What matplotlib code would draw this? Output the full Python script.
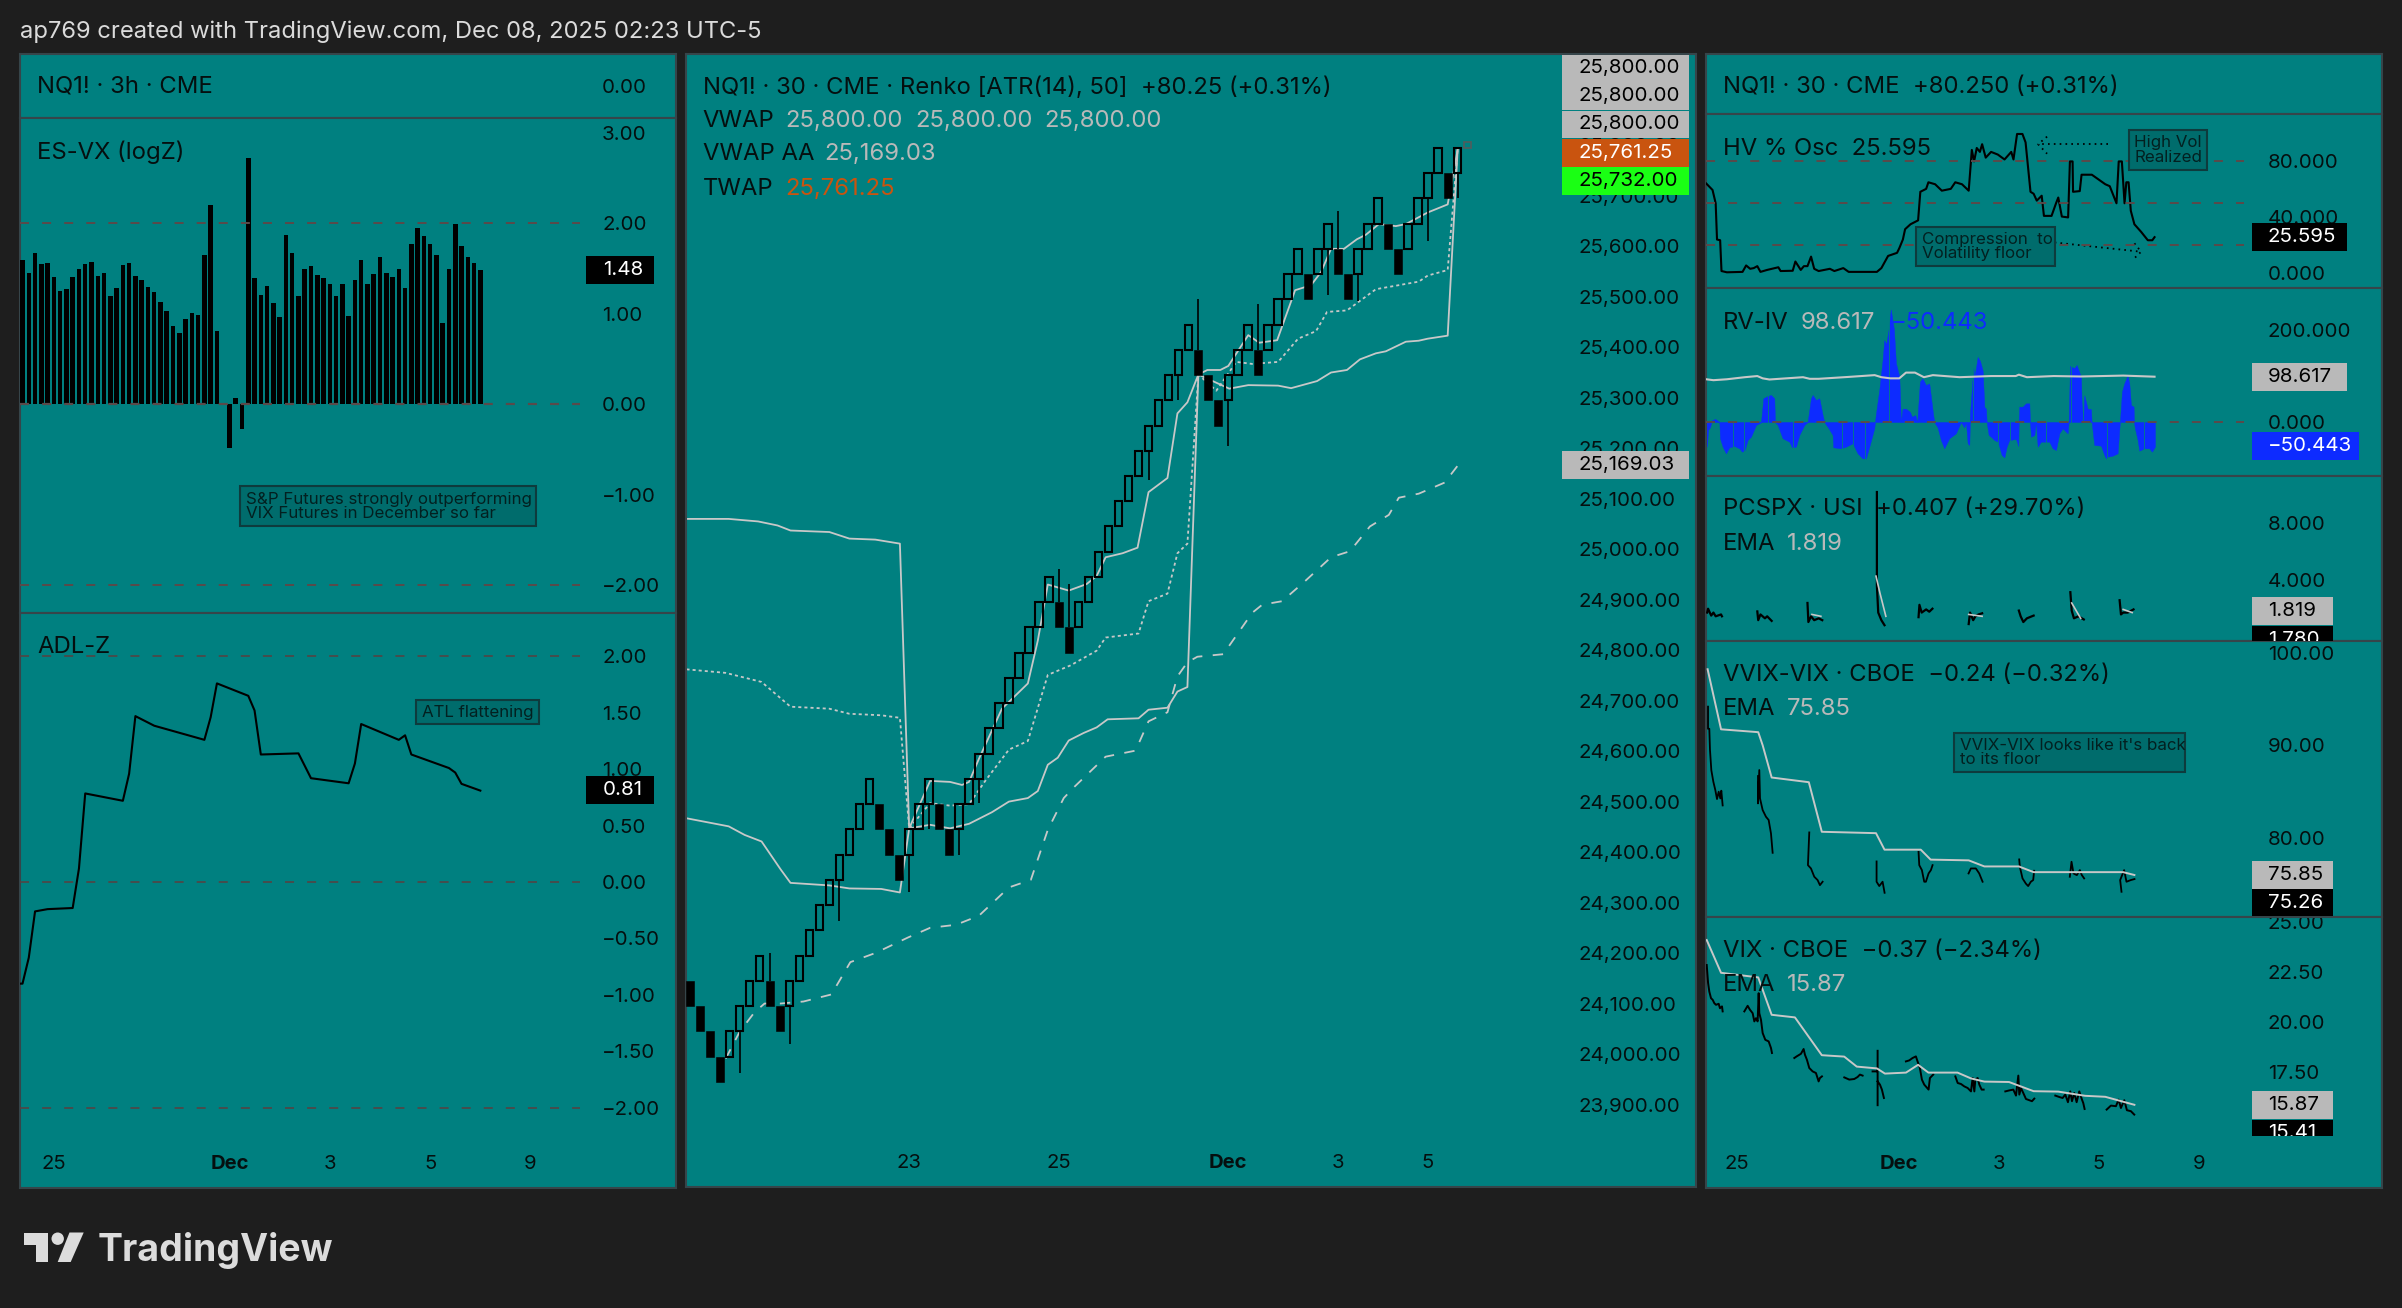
import numpy as np
import matplotlib
matplotlib.use("Agg")
import matplotlib.pyplot as plt
from matplotlib.patches import Rectangle, Circle, Polygon
from matplotlib.transforms import Bbox, TransformedBbox

plt.rcParams['font.family'] = ['Inter', 'DejaVu Sans']
plt.rcParams['lines.scale_dashes'] = False

nan = float('nan')

# --- left column, 3h bars ---
esvx_vals = [1.59, 1.45, 1.67, 1.55, 1.56, 1.40, 1.25, 1.27, 1.40, 1.49, 1.55, 1.57, 1.41, 1.45, 1.19, 1.28,
             1.54, 1.56, 1.42, 1.37, 1.29, 1.24, 1.13, 1.03, 0.86, 0.79, 0.94, 1.01, 0.99, 1.65, 2.20, 0.81,
             -0.01, -0.48, 0.07, -0.27, 2.72, 1.39, 1.21, 1.31, 1.12, 0.96, 1.87, 1.67, 1.19, 1.49, 1.53, 1.43,
             1.39, 1.33, 1.19, 1.33, 0.97, 1.37, 1.59, 1.33, 1.44, 1.63, 1.45, 1.40, 1.49, 1.28, 1.77, 1.95,
             1.86, 1.77, 1.65, 0.90, 1.49, 1.99, 1.75, 1.63, 1.56, 1.48]
adl_bar = [-0.3, 0, 1, 2, 4, 8, 9, 10, 16, 17, 18, 21, 29, 30, 31, 36, 37, 38, 44, 46, 52, 53, 54, 60, 61, 62, 68, 69, 70, 73]
adl_vals = [-0.90, -0.90, -0.67, -0.26, -0.24, -0.23, 0.12, 0.785, 0.72, 0.96, 1.47, 1.385, 1.26, 1.46, 1.76, 1.65,
            1.52, 1.13, 1.14, 0.92, 0.875, 1.05, 1.40, 1.26, 1.30, 1.13, 1.01, 0.97, 0.87, 0.81]
left_ticks = [5, 33, 49, 65, 81]
left_tick_labels = ['25', 'Dec', '3', '5', '9']

# --- centre, renko 50pt bricks ---
renko_close = [24095, 24045, 23995, 23945, 24045, 24095, 24145, 24195, 24095, 24045, 24145, 24195, 24245, 24295,
               24345, 24395, 24445, 24495, 24545, 24445, 24395, 24345, 24445, 24495, 24545, 24445, 24395, 24495,
               24545, 24595, 24645, 24695, 24745, 24795, 24845, 24895, 24945, 24845, 24795, 24895, 24945, 24995,
               25045, 25095, 25145, 25195, 25245, 25295, 25345, 25395, 25445, 25345, 25295, 25245, 25345, 25395,
               25445, 25345, 25445, 25495, 25545, 25595, 25495, 25595, 25645, 25545, 25495, 25595, 25645, 25695,
               25595, 25545, 25645, 25695, 25745, 25795, 25695, 25795]
wick_idx = [5, 8, 10, 15, 22, 24, 27, 29, 37, 38, 46, 49, 51, 54, 57, 64, 65, 67, 74, 77]
wick_price = [23962, 24201, 24019, 24263, 24320, 24445, 24394, 24497, 24961, 24931, 25138, 25295, 25496, 25204,
              25485, 25504, 25670, 25492, 25611, 25695]
upper_idx = [-0.33, 3.9, 6.85, 8.8, 10.1, 14, 16, 18.6, 21.07, 22, 24.1, 26.1, 27.3, 28, 29, 31.3, 33.9, 34.9, 35.9,
             38, 39.8, 40.8, 41.7, 43.4, 44.9, 46, 47.9, 48.9, 49.9, 51, 51.9, 53.2, 54, 56, 57.1, 58.9, 60.7, 62.3,
             63.3, 64.3, 65.6, 66.9, 67.8, 69.1, 70.8, 71.8, 74, 76, 77]
upper_vals = [25060, 25060, 25055, 25047, 25037, 25034, 25021, 25019, 25011, 24447, 24541, 24539, 24533, 24539, 24585,
              24684, 24734, 24819, 24930, 24918, 24931, 24947, 24984, 24992, 25003, 25113, 25141, 25269, 25291, 25346,
              25355, 25355, 25363, 25424, 25409, 25414, 25513, 25523, 25549, 25595, 25595, 25614, 25623, 25644, 25640,
              25644, 25667, 25683, 25792]
mid_idx = [-0.33, 3.6, 7.2, 10.1, 14, 16, 19.2, 21.07, 22, 24.1, 26.1, 28, 29.7, 32, 33.9, 35.9, 38.2, 40.8, 41.7, 45,
           46, 47.9, 48.9, 49.9, 51, 52.8, 54.8, 56.4, 59, 61, 62.8, 63.9, 65.9, 68.8, 73.1, 74, 76, 77]
mid_vals = [24762, 24755, 24737, 24688, 24684, 24674, 24671, 24666, 24447, 24497, 24492, 24495, 24543, 24603, 24620,
            24751, 24770, 24799, 24825, 24833, 24897, 24912, 24992, 25011, 25346, 25314, 25371, 25367, 25371, 25417,
            25432, 25470, 25473, 25515, 25530, 25542, 25553, 25792]
lower_idx = [-0.33, 3.9, 5.5, 7.2, 9.1, 10.1, 14, 16, 19.2, 21.07, 22, 24.1, 26.1, 28, 30.3, 32, 33.9, 34.9, 35.9, 36.9,
             38, 39.5, 40.8, 41.9, 45, 46, 47.9, 48.9, 49.9, 51, 54.1, 56, 59, 60.3, 62.9, 64.3, 65.9, 67.2, 68.8,
             69.8, 71.8, 73.1, 74, 76, 77]
lower_vals = [24467, 24451, 24434, 24421, 24366, 24339, 24334, 24328, 24327, 24320, 24447, 24454, 24447, 24456, 24479,
              24500, 24507, 24521, 24573, 24587, 24621, 24636, 24647, 24663, 24665, 24682, 24686, 24718, 24727, 25346,
              25318, 25325, 25324, 25319, 25333, 25350, 25355, 25376, 25388, 25392, 25411, 25413, 25417, 25423, 25792]
vwap_aa_idx = [3.6, 5, 6.5, 7.5, 9.1, 11.4, 14.2, 16.1, 18.6, 21.9, 24.1, 26.7, 29, 32, 34.2, 35.9, 37.5, 38.5, 41.7,
               44.7, 46, 47.9, 48.9, 49.9, 50.9, 53.5, 56.4, 57.4, 59.4, 61.6, 64.3, 66.2, 68.2, 70.1, 71.1, 73.1, 75.7, 77.1]
vwap_aa_vals = [23991, 24044, 24083, 24100, 24100, 24104, 24118, 24182, 24200, 24231, 24250, 24256, 24274, 24330, 24345,
                24444, 24507, 24528, 24589, 24601, 24659, 24677, 24748, 24776, 24787, 24792, 24874, 24890, 24897, 24935,
                24984, 24996, 25045, 25068, 25102, 25110, 25132, 25168]
centre_ticks = [22, 37, 54, 65, 74]
centre_tick_labels = ['23', '25', 'Dec', '3', '5']
price_levels = [23900, 24000, 24100, 24200, 24300, 24400, 24500, 24600, 24700, 24800, 24900, 25000, 25100, 25200,
                25300, 25400, 25500, 25600, 25700, 25800]

# --- right column, time is in an ordinal bar clock shared by all panes ---
right_ticks = [82, 443, 667, 890, 1115]
right_tick_labels = ['25', 'Dec', '3', '5', '9']
hv_t = [14, 28, 35, 38, 45, 48, 60, 95, 103, 112, 120, 128, 135, 150, 175, 180, 207, 213, 225, 232, 240, 248, 255, 265,
        290, 300, 320, 332, 395, 405, 420, 440, 445, 453, 458, 470, 487, 492, 505, 510, 525, 540, 560, 570, 585, 600,
        607, 612, 618, 625, 630, 638, 650, 665, 680, 695, 700, 708, 720, 727, 738, 745, 752, 763, 768, 785, 795, 800,
        808, 822, 826, 832, 833, 848, 852, 875, 905, 915, 930, 935, 942, 948, 952, 957, 962, 970, 985, 1000, 1010, 1015]
hv_vals = [63.9, 59.3, 49.8, 23.9, 23.4, 1.4, 0.5, 0.8, 5.4, 3, 3.5, 4.9, 0.8, 2.2, 4.1, 1.4, 1.6, 8.2, 2.2, 4.9, 4.9,
           11.7, 3.0, 1.4, 3, 1.4, 3.5, 0.8, 0.8, 3.5, 12.2, 14.4, 17.7, 23.9, 31.3, 34.8, 37.6, 58, 60.1, 64.8, 63.4,
           58.8, 60.1, 64.8, 63.4, 58.8, 87.9, 79.7, 89.3, 86.5, 92, 82.4, 86.5, 84.6, 81.1, 86.5, 81.1, 99.3, 99.3,
           93.3, 58, 56.6, 51.7, 55.2, 40.8, 40.8, 49.8, 53.9, 40.3, 39.7, 79.7, 79.7, 58, 58.5, 70.2, 70.2, 63.4, 62,
           49.8, 79.7, 79.7, 49.8, 64.8, 64.8, 44.4, 34.8, 29.4, 23.4, 23.4, 25.6]
rv_t = [14, 30, 60, 100, 128, 140, 155, 230, 245, 265, 330, 390, 405, 425, 445, 460, 480, 500, 520, 580, 650, 705, 712,
        730, 790, 850, 945, 1015]
rv_vals = [93, 91, 93, 97.5, 100, 95, 92.5, 97.5, 94, 94, 98, 102, 97.5, 95, 95, 107.5, 107.5, 97.5, 102, 97.5, 100,
           100, 103, 97.5, 100, 99, 101, 98.6]
iv_t = [13.4, 15.6, 17.9, 22.3, 26.8, 34.2, 43.2, 44.6, 50.6, 58, 65.5, 76.6, 87.8, 93.8, 99.7, 106.4, 113.8, 125, 136.2,
        141.4, 151, 158.5, 165.9, 167.4, 173.4, 184.5, 199.4, 205.4, 214.3, 221.7, 232.9, 240.3, 247.8, 251.5, 258.9,
        266.4, 273.8, 277.5, 287.2, 296.1, 297.6, 314.7, 325.9, 340.8, 351.9, 363.1, 370.5, 378, 389.1, 392.8, 400.3,
        407.7, 411.4, 416, 421, 426, 433, 437.5, 445, 448.6, 452.4, 459.8, 468.7, 473.2, 480.6, 485.1, 491, 497, 504.4,
        511.9, 519.3, 523, 530.5, 537.9, 545.4, 556.5, 571.4, 582.6, 590, 593.7, 597.7, 601.4, 602.9, 610.4, 612.6,
        616.3, 620, 625.2, 631.2, 634.9, 638.6, 640.1, 644.6, 649.8, 657.2, 664.7, 668.4, 673.6, 679.6, 684.8, 690.7,
        705.6, 710.8, 711.6, 713, 720.5, 727.9, 735.4, 736.8, 739.1, 746.5, 750.2, 754, 761.4, 772.6, 780, 787.4, 794.9,
        802.3, 809.8, 820.9, 823.2, 826.1, 835.8, 841, 850.7, 852.2, 855.9, 858.1, 865.6, 873, 874.5, 876.7, 880.4,
        895.3, 902.8, 906.5, 910.2, 921.4, 932.5, 936.2, 938.5, 942.2, 947.4, 954.8, 958.6, 962.3, 968.2, 969, 971.2,
        977.2, 980.9, 992, 1003.2, 1009.2, 1015.9]
iv_vals = [0, -53.7, -17.4, -11.6, 4.4, 6.5, 0, -35.5, -53.7, -68.2, -55.1, -52.2, -57.3, -64.6, -61, -39.2, -31.9, -6.5,
           -0.7, 51.5, 56.6, 58.8, 51.5, 0, -6.5, -35.5, -42.8, -55.1, -53.7, -28.3, -6.5, 0, 51.5, 58.8, 47.9, 51.5,
           15.2, 0, -13.8, -28.3, -55.1, -57.3, -53.7, -46.4, -68.2, -79.1, -79.1, -53.7, -13.8, 17.4, 69.6, 134.9, 178,
           170, 200, 245, 202, 128, 99, 0, 29, 29, 22, 11.6, 15, 0, 87.8, 95, 80.5, 84, 26, 0, -11.6, -39.2, -57.3,
           -35.5, -24.7, 0, -11.6, 0, -46.4, -50, 17.4, 118.4, 98, 118.4, 141.6, 133, 112, 33, 29, 0, -28.3, -32, -39.2,
           -42.8, -53.7, -71.8, -77, -53.7, -39.2, -37, -52.2, 0, 33.4, 33.4, 40.6, 40.6, 0, -32, -28.3, 0, -53.7, -42.8,
           -42.8, -42.8, -57.3, -61, -24.7, -13.8, -24.7, 0, 122, 117, 124, 98, 40.6, 0, 58, 29, 28, 0, -18.9, -50, -51.5,
           -71.8, -79, -75.4, -73.3, -68.2, -18, 11.6, 66, 84, 101, 84, 37, 33.4, 0, -13.8, -39, -62.4, -57.3, -57.3,
           -64.6, -53.7]
iv_breaks = [73, 99, 152, 208, 316, 342, 369, 423, 610, 666, 693, 772.6, 829, 856, 909, 990.6]
pcspx_t = [16, 18, 25, 30, 35, 47, 49, nan, 128, 130, 135, 145, 150, 160, nan, 240, 242, 248, 255, 265, 273, nan,
           395, 395, 398, 405, 412, nan, 488, 490, 495, 505, 512, 519, nan, 600, 603, 610, 615, 622, 630, nan,
           712, 716, 722, 730, 745, nan, 827, 830, 835, 845, 857, nan, 937, 940, 945, 955, 968]
pcspx_vals = [1.73, 2.0, 1.52, 1.73, 1.47, 1.6, 1.47, nan, 1.81, 1.2, 1.6, 1.33, 1.47, 1.15, nan, 2.4, 1.07, 1.47, 1.2,
              1.33, 1.2, nan, 10.13, 3.6, 1.73, 1.2, 0.85, nan, 1.41, 2.27, 1.73, 1.95, 1.79, 2.0, nan, 0.93, 1.73, 1.2,
              1.47, 1.6, 1.68, nan, 1.87, 1.47, 1.07, 1.33, 1.52, nan, 3.15, 1.87, 1.33, 1.47, 1.25, nan, 2.59, 1.6,
              1.73, 1.73, 1.95]
pcspx_ema_t = [393, 402, 415, nan, 830, 850, nan, 250, 270, nan, 945, 965, nan, 600, 630]
pcspx_ema = [4.27, 3.07, 1.47, nan, 2.4, 1.33, nan, 1.6, 1.47, nan, 1.95, 1.73, nan, 1.6, 1.47]
vvix_t = [17.9, 17.9, 20.8, 22.3, 25.3, 29.8, 34.2, 38, 41.7, 45.4, 47.6, 50.6, nan,
          129.5, 129.5, 132.4, 134, 139.9, 147.3, 153.3, 158.5, 162.2, nan,
          244, 241, 247.8, 255.2, 262.6, 267.8, 273.8, nan,
          394.3, 394.3, 400.3, 407.7, 412.2, nan,
          488, 489.6, 495.5, 500.7, 504.4, 510.4, 515.6, 519.3, nan,
          599.7, 604.9, 616, 623.5, 631, nan,
          712.8, 714.2, 720.2, 727.6, 732.8, 738.8, 744, 746.2, nan,
          825.8, 829.6, 834, 841.5, 848.2, 852.6, 857.8, nan,
          941.2, 938.2, 947.1, 952.3, 961.9, 970.2]
vvix_vals = [94.2, 91.8, 91.8, 89.5, 87.3, 86.05, 85.15, 84.17, 84.97, 84.24, 85.08, 83.48, nan,
             86.67, 83.7, 87.32, 84.24, 82.98, 82.25, 81.9, 80.44, 78.34, nan,
             80.55, 77, 76.64, 75.74, 75.38, 74.83, 75.2, nan,
             77.4, 75.2, 74.73, 75.2, 74, nan,
             78.45, 77, 76.46, 75.2, 75.2, 76.1, 76.46, 77, nan,
             76.1, 76.64, 76.64, 76.1, 75.2, nan,
             77.62, 76.82, 75.56, 75, 74.73, 75.2, 75.38, 76.39, nan,
             75.74, 77.37, 76.1, 75.92, 76.46, 75.92, 75.56, nan,
             74.11, 75.38, 76.46, 75.2, 75.38, 75.49]
vvix_ema_t = [17, 47, 130, 140, 160, 243, 272, 393, 412, 493, 515, 600, 635, 712, 745, 825, 945, 970]
vvix_ema = [98.26, 91.74, 91.43, 90, 86.51, 86.0, 80.62, 80.47, 78.68, 78.68, 77.6, 77.52, 76.86, 76.86, 76.24, 76.24,
            76.24, 75.93]
vix_t = [15, 18, 20.8, 24.6, 28.3, 32, 35.7, 41.7, 44.6, 49.1, 50.6, nan,
         99, 106.4, 111.6, 117.6, 121.3, 125, 128.7, 131, 132.4, 136.2, 139.9, 145.8, 153.3, 158.5, 160.7, nan,
         210.6, 215.8, 225.4, 231.4, 234.4, 238.8, 244, 251.5, 258.9, 264.9, 267.8, 272.3, nan,
         322.2, 333.3, 344.5, 351.9, 357.1, 363.1, nan,
         385.4, 395, nan, 396.6, 396.6, nan, 396.6, 401.8, 406.2, 410.7, nan,
         459.8, 467.2, 474.7, 482.1, 485.8, 491, 495.5, 500.7, 510.4, 513.4, 520.8, nan,
         570.2, 575.4, 582.8, 590.2, 597.7, 605.1, 608.8, 612.6, 614.8, 620, 623.7, 628.9, 633.4, nan,
         681.8, 690.7, 699.6, 705.6, 710.8, 713, 716.7, 721.9, 727.9, 735.3, 741.3, 746.5, nan,
         793.4, 802.3, 809.7, 815.7, 821.6, 826.8, 830.6, 835.8, 841, 846.9, 852.9, 855.8, 858.8, nan,
         908, 917.6, 928.8, 934.7, 939.9, 947.4, 953.3, 962.2, 969.7]
vix_vals = [22.85, 21.96, 21.52, 21.19, 21.11, 20.94, 20.86, 20.91, 20.69, 20.78, 20.53, nan,
            20.53, 20.81, 20.61, 20.44, 20.03, 20.19, 20.03, 21.44, 20.44, 20.11, 19.45, 19.11, 19.03, 18.7, 18.45, nan,
            18.2, 18.28, 18.41, 18.65, 18.36, 18.11, 17.7, 17.53, 17.45, 17.03, 17.2, 17.28, nan,
            17.23, 17.12, 17.15, 17.25, 17.37, 17.32, nan,
            17.53, 17.53, nan, 18.56, 15.84, nan, 17.03, 16.87, 16.62, 16.2, nan,
            18.03, 18.08, 18.2, 18.28, 18.03, 17.7, 17.12, 16.87, 16.62, 17.2, 17.37, nan,
            17.28, 16.95, 16.9, 16.78, 16.7, 16.53, 17.2, 16.53, 17.12, 17.2, 16.87, 16.62, 16.62, nan,
            16.53, 16.58, 16.62, 16.32, 17.32, 16.37, 16.7, 16.45, 16.15, 16.09, 16.04, 16.17, nan,
            16.32, 16.25, 16.2, 16.37, 15.99, 16.53, 16.04, 16.45, 15.99, 16.53, 16.12, 15.95, 15.65, nan,
            15.62, 15.82, 15.79, 16.12, 15.7, 16.09, 15.59, 15.54, 15.37]
vix_ema_t = [15, 47, 130, 160, 212, 272, 322, 350, 395, 413, 460, 487, 510, 575, 605, 635, 690, 745, 800, 860, 905, 970]
vix_ema = [24.1, 22.46, 22.23, 20.36, 20.23, 18.34, 18.27, 17.77, 17.68, 17.42, 17.47, 17.86, 17.47, 17.47, 17.18, 17.02,
           17.0, 16.54, 16.52, 16.31, 16.26, 15.86]

W, H = 2402, 1308
TEAL = '#008080'
BG = '#1e1e1e'
LINE = '#c8c8c8'
GREY_TAG = '#b9b9b9'
DASH = '#5a4a4a'
BLUE = '#0d2bff'
ORANGE = '#c9540f'
FS = 14.8

fig = plt.figure(figsize=(W / 100, H / 100), dpi=100, facecolor=BG)


def pane(x0, y0, x1, y1, val_a=None, y_a=None, val_b=None, y_b=None, xlim=(0, 1)):
    ax = fig.add_axes([x0 / W, 1 - y1 / H, (x1 - x0) / W, (y1 - y0) / H], facecolor=TEAL)
    ax.set_xlim(*xlim)
    if val_a is not None:
        # two tick readings give the linear price scale of the pane
        per_px = (val_a - val_b) / (y_b - y_a)
        ax.set_ylim(val_a - (y1 - y_a) * per_px, val_a + (y_a - y0) * per_px)
    ax.set_xticks([])
    ax.set_yticks([])
    for s in ax.spines.values():
        s.set_color('#36454a')
        s.set_linewidth(1.5)
    return ax


def yticks(ax, ticks, labels, pad_px):
    ax.set_yticks(ticks)
    ax.set_yticklabels(labels)
    ax.tick_params(axis='y', left=False, labelleft=False, right=False, labelright=True, length=0,
                   pad=-pad_px * 0.72, labelsize=FS, labelcolor='#050f0f')
    for lab in ax.get_yticklabels():
        lab.set_clip_on(True)
        lab.set_clip_box(ax.bbox)


def xticks(ax, ticks, labels):
    ax.set_xticks(ticks)
    ax.set_xticklabels(labels)
    ax.tick_params(axis='x', bottom=False, length=0, pad=-33 * 0.72, labelsize=FS - 0.2, labelcolor='#050f0f')
    for lab in ax.get_xticklabels():
        if lab.get_text() == 'Dec':
            lab.set_fontweight('bold')


def dashed(ax, val, x_a, x_b, lw=1.4, color=DASH):
    ax.plot([x_a, x_b], [val, val], color=color, lw=lw, ls=(0, (6.5, 9.4)), zorder=4)


# left column
L0, L1 = 20, 676
left_x = (-0.4, 104.2)
lh = pane(L0, 54, L1, 118, -1, 118, 1, 54, left_x)
yticks(lh, [0], ['0.00'], L1 - 602)
es = pane(L0, 118, L1, 613, 3, 132.5, -2, 585.3, left_x)
es.bar(np.arange(len(esvx_vals)), esvx_vals, width=0.72, color='black', zorder=3)
for v in [2, 0, -2]:
    dashed(es, v, left_x[0], 88.9, lw=1.4 if v else 1.6)
yticks(es, [3, 2, 1, 0, -1, -2], ['3.00', '2.00', '1.00', '0.00', '−1.00', '−2.00'], L1 - 602)
adl = pane(L0, 613, L1, 1188, 2, 656.3, -2, 1107.8, left_x)
adl.plot(adl_bar, adl_vals, color='black', lw=1.5, zorder=3)
for v in [2, 0, -2]:
    dashed(adl, v, left_x[0], 88.9, lw=1.1, color='#5a3f3f')
yticks(adl, [2, 1.5, 1, 0.5, 0, -0.5, -1, -1.5, -2],
       ['2.00', '1.50', '1.00', '0.50', '0.00', '−0.50', '−1.00', '−1.50', '−2.00'], L1 - 602)
xticks(adl, left_ticks, left_tick_labels)

# centre column
C0, C1 = 685.5, 1696
centre_x = (-0.43, 100.9)
ctr = pane(C0, 54, C1, 1187, 25600, 246.3, 23900, 1104.5, centre_x)
ctr.plot(upper_idx, upper_vals, color=LINE, lw=1.3, zorder=2)
ctr.plot(mid_idx, mid_vals, color=LINE, lw=1.3, ls=(0, (2.2, 2.2)), zorder=2)
ctr.plot(lower_idx, lower_vals, color=LINE, lw=1.3, zorder=2)
ctr.plot(vwap_aa_idx, vwap_aa_vals, color=LINE, lw=1.3, ls=(0, (7.5, 7.5)), zorder=2)
closes = np.array(renko_close)
prev = np.r_[closes[0] + 50, closes[:-1]]
is_up = closes > prev
bottoms = np.where(is_up, closes - 50, closes)
idx = np.arange(len(closes))
# wicks start at the edge of the body they stick out of
wick_start = [bottoms[i] + 50 if p > bottoms[i] else bottoms[i] for i, p in zip(wick_idx, wick_price)]
ctr.vlines(wick_idx, wick_start, wick_price, color='black', lw=1.2, zorder=3)
ctr.bar(idx[is_up], 50, bottom=bottoms[is_up], width=0.76, facecolor='none', edgecolor='black', lw=1.5, zorder=4)
ctr.bar(idx[~is_up], 50, bottom=bottoms[~is_up], width=0.8, facecolor='black', edgecolor='black', lw=0.4, zorder=4)
ctr.bar([78], 12, bottom=25795, width=0.76, facecolor='none', edgecolor='#4c5f5f', lw=1.3, zorder=4)
yticks(ctr, price_levels, [f'{p:,.2f}' for p in price_levels], C1 - 1578)
xticks(ctr, centre_ticks, centre_tick_labels)

# right column
R0, R1 = 1706, 2381.6
right_x = (13.4, 1522)
rh = pane(R0, 54, R1, 114, xlim=right_x)
hv = pane(R0, 114, R1, 288, 80, 161, 0, 273, right_x)
hv.plot(hv_t, hv_vals, color='black', lw=1.5, zorder=3)
for v in [80, 50, 20]:
    dashed(hv, v, right_x[0], 1215)
# dotted pointers on the notes
hv.plot([910, 755], [92, 92], color='black', lw=1.3, ls=(0, (1.2, 3)), zorder=3)
hv.plot([775, 755, 775], [97.4, 92, 85.2], color='black', lw=1.3, ls=(0, (1.2, 3)), zorder=3)
hv.plot([792, 985], [21.8, 15.2], color='black', lw=1.3, ls=(0, (1.2, 3)), zorder=3)
hv.plot([970, 985, 965], [21.2, 15.2, 9], color='black', lw=1.3, ls=(0, (1.2, 3)), zorder=3)
yticks(hv, [80, 40, 0], ['80.000', '40.000', '0.000'], R1 - 2267.8)

rv = pane(R0, 288, R1, 475.6, 200, 330.1, 0, 422, right_x)
rv.fill_between(iv_t, iv_vals, 0, color=BLUE, lw=0.3, zorder=2)
rv.vlines(iv_breaks, -90, 250, color=TEAL, lw=0.6, zorder=2.1)
rv.plot(rv_t, rv_vals, color=LINE, lw=1.5, zorder=3)
dashed(rv, 0, right_x[0], 1215)
yticks(rv, [200, 0], ['200.000', '0.000'], R1 - 2267.8)

pc = pane(R0, 475.6, R1, 641, 8, 522.6, 4, 580, right_x)
pc.plot(pcspx_t, pcspx_vals, color='black', lw=1.6, zorder=3)
pc.plot(pcspx_ema_t, pcspx_ema, color=LINE, lw=1.2, zorder=4)
yticks(pc, [8, 4], ['8.000', '4.000'], R1 - 2267.8)

vv = pane(R0, 641, R1, 917, 100, 653.2, 80, 837.5, right_x)
vv.plot(vvix_t, vvix_vals, color='black', lw=1.3, zorder=3)
vv.plot(vvix_ema_t, vvix_ema, color=LINE, lw=1.4, zorder=4)
yticks(vv, [100, 90, 80], ['100.00', '90.00', '80.00'], R1 - 2267.8)

vx = pane(R0, 917, R1, 1188, 25, 922, 17.5, 1072, right_x)
vx.plot(vix_t, vix_vals, color='black', lw=1.4, zorder=3)
vx.plot(vix_ema_t, vix_ema, color=LINE, lw=1.4, zorder=4)
yticks(vx, [25, 22.5, 20, 17.5], ['25.00', '22.50', '20.00', '17.50'], R1 - 2267.8)
xticks(vx, right_ticks, right_tick_labels)

# overlay in figure pixels for legends, price tags and notes
ov = fig.add_axes([0, 0, 1, 1], zorder=10)
ov.set_xlim(0, W)
ov.set_ylim(H, 0)
ov.axis('off')


def label(x, y, s, color='#050f0f', size=FS + 2.4, **kw):
    return ov.text(x, y + 1, s, color=color, fontsize=size, va='center', ha='left', **kw)


def tag(x0, x1, yc, tx, s, bg, fg, clip_y=None):
    r = Rectangle((x0, yc - 13.8), x1 - x0, 27.6, facecolor=bg, edgecolor='none', zorder=6)
    ov.add_patch(r)
    t = ov.text(tx, yc, s, color=fg, fontsize=FS, va='center', ha='left', zorder=7)
    if clip_y is not None:
        box = TransformedBbox(Bbox([[x0, yc - 20], [x1, clip_y]]), ov.transData)
        r.set_clip_box(box)
        t.set_clip_on(True)
        t.set_clip_box(box)


def note(x0, y0, x1, y1, s, size=12.2):
    ov.add_patch(Rectangle((x0, y0), x1 - x0, y1 - y0, facecolor='#006c6c', edgecolor='#0e3b3d', lw=1.5, zorder=5))
    ov.text(x0 + 5.5, (y0 + y1) / 2, s, color='#032020', fontsize=size, va='center', ha='left', linespacing=0.95, zorder=6)


ov.text(20, 31.5, 'ap769 created with TradingView.com, Dec 08, 2025 02:23 UTC-5', color='#dbdbdb', fontsize=17.1,
        va='center', ha='left')

# left legends
label(37, 85.5, 'NQ1! · 3h · CME')
label(37, 151, 'ES-VX (logZ)')
label(37, 646, 'ADL-Z')
# centre legends
label(702.8, 86.4, 'NQ1! · 30 · CME · Renko [ATR(14), 50]  +80.25 (+0.31%)')
label(702.8, 120, 'VWAP')
for x in [785.4, 915.5, 1044.3]:
    label(x, 120, '25,800.00', color=GREY_TAG)
label(702.8, 153.3, 'VWAP AA')
label(824.4, 153.3, '25,169.03', color=GREY_TAG)
label(702.8, 187.8, 'TWAP')
label(785.4, 187.8, '25,761.25', color=ORANGE)
# right legends
label(1723.3, 85.6, 'NQ1! · 30 · CME  +80.250 (+0.31%)')
label(1723.3, 147.6, 'HV % Osc  25.595')
label(1723.3, 321.7, 'RV-IV')
label(1800.8, 321.7, '98.617', color=GREY_TAG)
label(1890.3, 321.7, '−50.443', color=BLUE)
label(1723.3, 508.5, 'PCSPX · USI  +0.407 (+29.70%)')
label(1723.3, 542.5, 'EMA')
label(1787.3, 542.5, '1.819', color=GREY_TAG)
label(1723.3, 674, 'VVIX-VIX · CBOE  −0.24 (−0.32%)')
label(1723.3, 707.9, 'EMA')
label(1787.3, 707.9, '75.85', color=GREY_TAG)
label(1723.3, 950, 'VIX · CBOE  −0.37 (−2.34%)')
label(1723.3, 983.6, 'EMA')
label(1787.3, 983.6, '15.87', color=GREY_TAG)

# price tags
tag(586, 654.4, 270, 602.8, '1.48', 'black', 'white')
tag(586, 654.4, 790, 602.8, '0.81', 'black', 'white')
for yc, s, bg, fg in [(68.3, '25,800.00', GREY_TAG, 'black'), (96, '25,800.00', GREY_TAG, 'black'),
                      (124.3, '25,800.00', GREY_TAG, 'black'), (153, '25,761.25', ORANGE, 'white'),
                      (181, '25,732.00', '#1aff14', 'black'), (465, '25,169.03', GREY_TAG, 'black')]:
    tag(1562, 1689, yc, 1578, s, bg, fg)
tag(2252, 2347, 236.8, 2267.8, '25.595', 'black', 'white')
tag(2252, 2347, 377, 2267.8, '98.617', GREY_TAG, 'black')
tag(2252, 2359, 445.7, 2267.8, '−50.443', BLUE, 'white')
tag(2252, 2333, 611, 2267.8, '1.819', GREY_TAG, 'black')
tag(2252, 2333, 640, 2267.8, '1.780', 'black', 'white', clip_y=641)
tag(2252, 2333, 875, 2267.8, '75.85', GREY_TAG, 'black')
tag(2252, 2333, 902.5, 2267.8, '75.26', 'black', 'white')
tag(2252, 2333, 1105, 2267.8, '15.87', GREY_TAG, 'black')
tag(2252, 2333, 1133.5, 2267.8, '15.41', 'black', 'white', clip_y=1135.7)

# notes
note(240, 486.4, 535.6, 526.4, 'S&P Futures strongly outperforming\nVIX Futures in December so far')
note(416, 700, 539, 724.4, 'ATL flattening')
note(2128.6, 130, 2207.4, 170, 'High Vol\nRealized')
note(1916, 226.8, 2054.7, 266, 'Compression  to\nVolatility floor')
note(1954, 733, 2184.5, 772, "VVIX-VIX looks like it's back\nto its floor")

# TradingView mark
LOGO = '#dcdcdc'
ov.add_patch(Polygon([(24, 1232.5), (48, 1232.5), (48, 1262), (36, 1262), (36, 1244.5), (24, 1244.5)], color=LOGO, lw=0))
ov.add_patch(Circle((57.7, 1238.7), 6.2, color=LOGO, lw=0))
ov.add_patch(Polygon([(69.5, 1232.5), (83.7, 1232.5), (70.7, 1262), (57.7, 1262)], color=LOGO, lw=0))
ov.text(98, 1261, 'TradingView', color=LOGO, fontsize=27, fontweight='bold', va='baseline', ha='left')

fig.savefig('out.png', dpi=100, facecolor=BG)
